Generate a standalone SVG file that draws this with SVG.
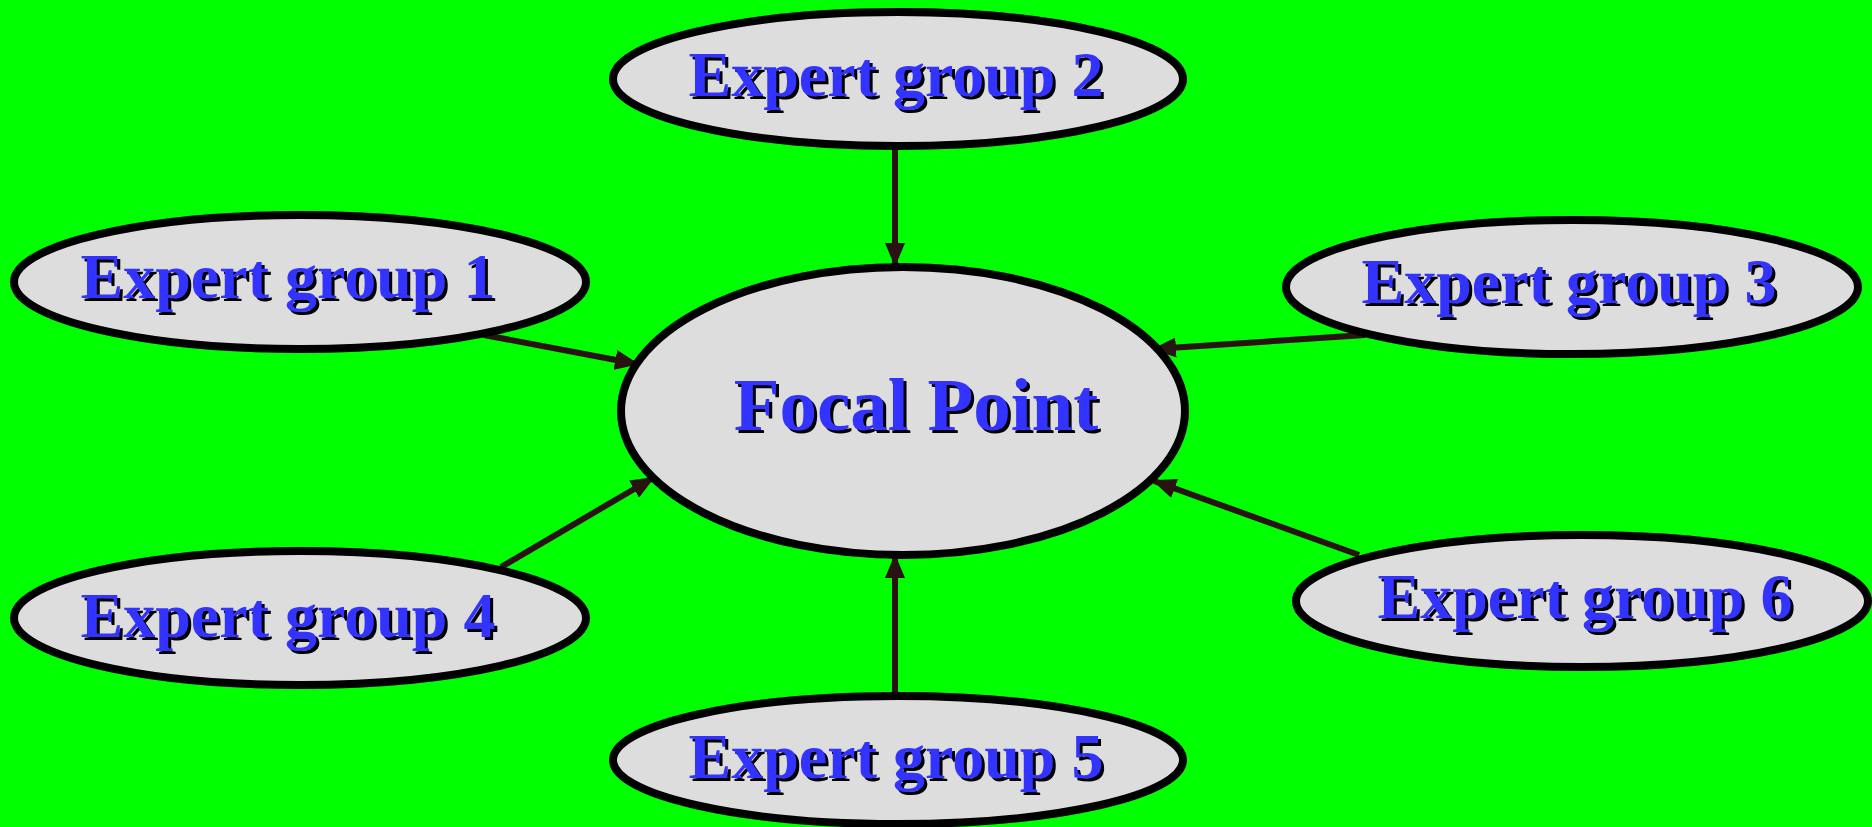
<svg xmlns="http://www.w3.org/2000/svg" width="1872" height="827" viewBox="0 0 1872 827">
<defs>
<style>
.node ellipse{fill:#dddddd;stroke:#000;stroke-width:8}
.lbl{font-family:"Liberation Serif","Times New Roman",serif;font-weight:bold;font-size:64px;text-anchor:middle}
.sh{fill:#000}
.fg{fill:#3333ff}
.focal{font-size:75px}
#connectors line{stroke:#2a1212;stroke-width:6}
</style>
<marker id="ah" markerUnits="userSpaceOnUse" markerWidth="24" markerHeight="20" refX="22" refY="10" orient="auto">
<path d="M0,0 L24,10 L0,20 z" fill="#2a1212"/>
</marker>
</defs>
<rect width="1872" height="827" fill="#00ff00"/>
<g id="connectors">
<line x1="895" y1="146" x2="895" y2="265" marker-end="url(#ah)"/>
<line x1="484" y1="335" x2="637" y2="364" marker-end="url(#ah)"/>
<line x1="1365" y1="335" x2="1154" y2="349" marker-end="url(#ah)"/>
<line x1="501" y1="567" x2="653" y2="478" marker-end="url(#ah)"/>
<line x1="895" y1="695" x2="895" y2="556" marker-end="url(#ah)"/>
<line x1="1359" y1="555" x2="1154" y2="481" marker-end="url(#ah)"/>
</g>
<g id="focal" class="node">
<ellipse cx="903" cy="411" rx="282" ry="144"/>
<text class="lbl focal sh" x="919" y="433">Focal Point</text>
<text class="lbl focal fg" x="916" y="430">Focal Point</text>
</g>
<g id="eg1" class="node">
<ellipse cx="300" cy="282" rx="286" ry="67"/>
<text class="lbl sh" x="291" y="301">Expert group 1</text>
<text class="lbl fg" x="288" y="298">Expert group 1</text>
</g>
<g id="eg2" class="node">
<ellipse cx="898" cy="79" rx="285" ry="67"/>
<text class="lbl sh" x="899" y="99">Expert group 2</text>
<text class="lbl fg" x="896" y="96">Expert group 2</text>
</g>
<g id="eg3" class="node">
<ellipse cx="1572" cy="287" rx="286" ry="67"/>
<text class="lbl sh" x="1572" y="306">Expert group 3</text>
<text class="lbl fg" x="1569" y="303">Expert group 3</text>
</g>
<g id="eg4" class="node">
<ellipse cx="300" cy="618" rx="286" ry="67"/>
<text class="lbl sh" x="291" y="640">Expert group 4</text>
<text class="lbl fg" x="288" y="637">Expert group 4</text>
</g>
<g id="eg5" class="node">
<ellipse cx="898" cy="760" rx="285" ry="64"/>
<text class="lbl sh" x="899" y="781">Expert group 5</text>
<text class="lbl fg" x="896" y="778">Expert group 5</text>
</g>
<g id="eg6" class="node">
<ellipse cx="1582" cy="601" rx="286" ry="66"/>
<text class="lbl sh" x="1588" y="621">Expert group 6</text>
<text class="lbl fg" x="1585" y="618">Expert group 6</text>
</g>
</svg>
